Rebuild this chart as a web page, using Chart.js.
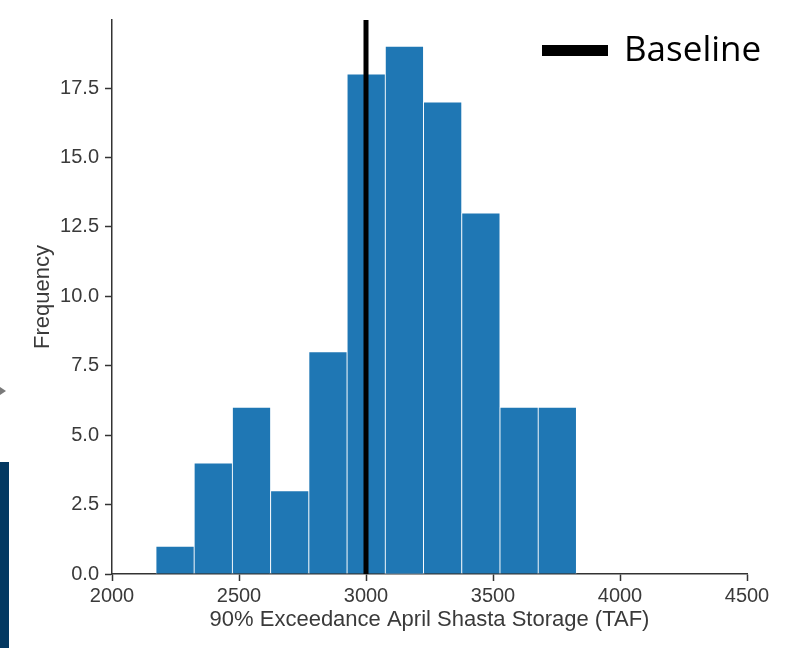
<!DOCTYPE html>
<html>
<head>
<meta charset="utf-8">
<script src="https://cdn.jsdelivr.net/npm/chart.js@4/dist/chart.umd.min.js"></script>
<style>
  html, body { margin: 0; padding: 0; background: #ffffff; }
  #wrap { position: relative; width: 794px; height: 648px; overflow: hidden; }
  #chart { position: absolute; left: 0; top: 0; }
  .side-bar { position: absolute; left: 0; top: 462px; width: 9px; height: 186px; background: #033861; }
  .side-arrow { position: absolute; left: 0; top: 387px; width: 0; height: 0;
    border-top: 4px solid transparent; border-bottom: 4px solid transparent; border-left: 6px solid #7a7a7a; }
</style>
</head>
<body>
<div id="wrap">
  <canvas id="chart" width="794" height="648"></canvas>
  <div class="side-arrow"></div>
  <div class="side-bar"></div>
</div>
<script>
// Histogram of 90% exceedance April Shasta storage (TAF)
const binEdges = [2173, 2323.5, 2474, 2624.5, 2775, 2925.5, 3076, 3226.5, 3377, 3527.5, 3678, 3828.5];
const frequencies = [1, 4, 6, 3, 8, 18, 19, 17, 13, 6, 6];
const baselineStorage = 3000;
const xTickValues = [2000, 2500, 3000, 3500, 4000, 4500];
const yTickValues = [0, 2.5, 5, 7.5, 10, 12.5, 15, 17.5];
const xTitle = '90% Exceedance April Shasta Storage (TAF)';
const yTitle = 'Frequency';
const baselineLabel = 'Baseline';

const Y_TOP = 19.95;
const axisColor = '#333333';
const textColor = '#3a3a3a';
const tickFont = { family: "'Liberation Sans', Arial, sans-serif", size: 20 };
const titleFont = { family: "'Liberation Sans', Arial, sans-serif", size: 22 };

// Bars are placed at bin centres; neighbouring bins touch.
const histPoints = frequencies.map((f, i) => ({ x: (binEdges[i] + binEdges[i + 1]) / 2, y: f }));

// Legend entry for the baseline line, drawn in the upper right corner.
const baselineLegend = {
  id: 'baselineLegend',
  afterDraw(chart) {
    const ds = chart.data.datasets.find(d => d.label === baselineLabel);
    const ctx = chart.ctx;
    ctx.save();
    ctx.strokeStyle = ds.borderColor;
    ctx.lineWidth = 11;
    ctx.lineCap = 'butt';
    ctx.beginPath();
    ctx.moveTo(542, 50.5);
    ctx.lineTo(608, 50.5);
    ctx.stroke();
    ctx.fillStyle = '#000000';
    ctx.font = "35px 'Open Sans', 'Noto Sans', sans-serif";
    ctx.textBaseline = 'middle';
    ctx.textAlign = 'left';
    ctx.fillText(ds.label, 624, 51);
    ctx.restore();
  }
};

new Chart(document.getElementById('chart'), {
  data: {
    datasets: [
      {
        type: 'bar',
        label: 'Frequency',
        data: histPoints,
        backgroundColor: '#1f77b4',
        borderColor: 'rgba(255,255,255,0.85)',
        borderWidth: 0.8,
        barPercentage: 1,
        categoryPercentage: 1,
        grouped: false,
        order: 2
      },
      {
        type: 'line',
        label: baselineLabel,
        data: [{ x: baselineStorage, y: 0 }, { x: baselineStorage, y: Y_TOP }],
        borderColor: '#000000',
        borderWidth: 5,
        pointRadius: 0,
        fill: false,
        order: 1
      }
    ]
  },
  options: {
    responsive: false,
    animation: false,
    layout: { padding: { left: 0, top: 20, right: 47, bottom: 0 } },
    plugins: {
      legend: { display: false },
      tooltip: { enabled: false }
    },
    scales: {
      x: {
        type: 'linear',
        min: xTickValues[0],
        max: xTickValues[xTickValues.length - 1],
        offset: false,
        afterBuildTicks: s => { s.ticks = xTickValues.map(v => ({ value: v })); },
        afterFit: s => { s.height = 74; },
        grid: { offset: false, drawOnChartArea: false, drawTicks: true, tickLength: 7, tickWidth: 1.5, tickColor: axisColor },
        border: { display: true, color: axisColor, width: 1.5 },
        ticks: { color: textColor, font: tickFont, padding: 3, maxRotation: 0, callback: v => String(v) },
        title: { display: true, text: xTitle, color: textColor, font: titleFont, padding: { top: 0, bottom: 15 } }
      },
      y: {
        type: 'linear',
        min: 0,
        max: Y_TOP,
        afterBuildTicks: s => { s.ticks = yTickValues.map(v => ({ value: v })); },
        afterFit: s => { s.width = 112; },
        grid: { drawOnChartArea: false, drawTicks: true, tickLength: 7, tickWidth: 1.5, tickColor: axisColor },
        border: { display: true, color: axisColor, width: 1.5 },
        ticks: { color: textColor, font: tickFont, padding: 6, callback: v => Number(v).toFixed(1) },
        title: { display: true, text: yTitle, color: textColor, font: titleFont, padding: { top: 30, bottom: 0 } }
      }
    }
  },
  plugins: [baselineLegend]
});
</script>
</body>
</html>
